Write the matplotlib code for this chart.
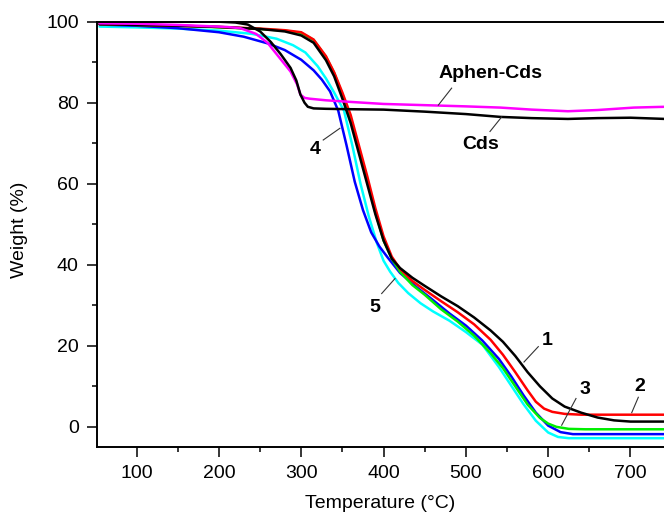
import numpy as np
import matplotlib
matplotlib.use("Agg")
import matplotlib.pyplot as plt
from matplotlib.ticker import MultipleLocator

plt.rcParams['font.family'] = ['Liberation Sans', 'DejaVu Sans']

# sample 1 (black)
temp1 = [55, 100, 150, 200, 250, 280, 300, 315, 330, 340, 350, 360, 370, 380, 390, 400, 410, 420, 435, 450,
         470, 490, 510, 530, 545, 560, 575, 590, 605, 620, 640, 660, 680, 700, 742]
weight1 = [99.4, 99.2, 99.0, 98.7, 98.2, 97.6, 96.6, 94.8, 90.5, 86.5, 81, 75, 67.5, 60, 52.5, 46, 41.5, 39.2, 36.8, 34.8,
           32.2, 29.8, 27, 23.8, 21, 17.5, 13.5, 10, 7, 5, 3.5, 2.3, 1.6, 1.3, 1.3]
# sample 2 (red)
temp2 = [55, 100, 150, 200, 250, 280, 300, 315, 330, 340, 350, 360, 370, 380, 390, 400, 410, 420, 435, 450,
         470, 490, 510, 530, 545, 560, 575, 585, 595, 605, 620, 640, 742]
weight2 = [99.4, 99.2, 99.0, 98.7, 98.3, 97.9, 97.4, 95.6, 91.5, 87.5, 82.5, 77, 69.5, 62, 54, 47, 42, 39, 36, 33.8,
           31, 28.3, 25.3, 21.5, 17.8, 13.5, 9, 6.2, 4.5, 3.7, 3.2, 3.0, 3.0]
# sample 3 (green)
temp3 = [55, 100, 150, 200, 250, 280, 300, 315, 330, 340, 350, 360, 370, 380, 390, 400, 410, 420, 435, 450,
         470, 490, 510, 530, 545, 560, 575, 590, 600, 610, 625, 645, 742]
weight3 = [99.4, 99.2, 99.0, 98.6, 98.2, 97.8, 97.2, 95.5, 91.3, 87.3, 82, 76, 68.5, 61, 53, 46, 41.5, 38.3, 35, 32.6,
           29, 26, 22.5, 18.2, 14.5, 10, 5.5, 2.2, 0.8, 0, -0.5, -0.6, -0.6]
# sample 4 (blue)
temp4 = [55, 100, 150, 200, 230, 260, 280, 300, 315, 325, 335, 345, 355, 365, 375, 385, 395, 405, 420, 440,
         460, 480, 500, 520, 540, 555, 570, 585, 600, 615, 630, 742]
weight4 = [99.3, 99.0, 98.4, 97.4, 96.3, 94.6, 93, 90.6, 88, 85.7, 82.8, 78, 69.5, 60.5, 53.5, 48, 44.5, 41.8, 38, 34.5,
           31.3, 28, 25, 21.3, 16.8, 12.5, 7.8, 3.5, 0.3, -1.3, -1.8, -1.8]
# sample 5 (cyan)
temp5 = [55, 100, 150, 200, 240, 270, 290, 305, 320, 330, 340, 352, 362, 372, 382, 392, 400, 408, 418, 430,
         445, 460, 480, 500, 520, 540, 555, 570, 585, 600, 612, 625, 742]
weight5 = [98.8, 98.6, 98.3, 97.8, 97.0, 95.8, 94.2, 92.4, 89, 86, 82.5, 78, 69.5, 60, 52, 45.3, 41, 38.3, 35.5, 33,
           30.5, 28.5, 26.2, 23.4, 20.3, 14.8, 10.2, 5.6, 1.5, -1.4, -2.5, -2.8, -2.8]
# Aphen-Cds (magenta)
tempAphen = [55, 100, 150, 186, 210, 226, 245, 259, 272, 287, 295, 299, 304, 310, 330, 360, 400, 450, 500, 542,
             580, 624, 660, 704, 742]
weightAphen = [99.6, 99.5, 99.2, 98.9, 98.7, 98.4, 97, 94.8, 91.5, 87.7, 84.5, 82, 81.2, 81, 80.6, 80.2, 79.7, 79.4,
               79.1, 78.8, 78.3, 77.9, 78.2, 78.8, 79]
# Cds (black)
tempCds = [55, 100, 150, 200, 220, 235, 250, 263, 275, 287, 294, 299, 304, 308, 315, 330, 360, 400, 450, 500,
           542, 580, 624, 660, 700, 742]
weightCds = [100, 100, 100, 100, 99.8, 99.3, 97.6, 95, 92, 88.6, 85.5, 82, 80, 79, 78.6, 78.5, 78.4, 78.3, 77.8,
             77.2, 76.5, 76.2, 76, 76.2, 76.3, 76]

series = [
    (temp5, weight5, '#00ffff'),
    (temp4, weight4, '#0000ff'),
    (temp3, weight3, '#00ee00'),
    (temp2, weight2, '#ff0000'),
    (temp1, weight1, '#000000'),
    (tempAphen, weightAphen, '#ff00ff'),
    (tempCds, weightCds, '#000000'),
]

# label text, text position, leader start, leader end
labels = [
    ("Aphen-Cds", (530.5, 87.3), (482.7, 83.6), (466.5, 79.4)),
    ("Cds", (518.4, 69.6), (543.5, 76.5), (529.3, 72.9)),
    ("4", (316.6, 68.5), (326.7, 70.8), (347.0, 73.7)),
    ("5", (389.6, 29.5), (397.7, 32.9), (413.9, 36.6)),
    ("1", (598.2, 21.4), (588.0, 19.8), (570.6, 16.0)),
    ("3", (644.7, 9.2), (633.8, 7.0), (616.4, 0.4)),
    ("2", (711.5, 9.9), (709.5, 7.3), (701.5, 3.5)),
]

fig = plt.figure(figsize=(6.64, 5.15), dpi=100)
ax = fig.add_axes([96.7 / 664, 1 - 446.7 / 515, 1 - 96.7 / 664, (446.7 - 21.7) / 515])

for t, w, c in series:
    ax.plot(t, w, color=c, lw=1.8, solid_capstyle='round')

for txt, pos, p0, p1 in labels:
    ax.text(pos[0], pos[1], txt, fontsize=14, fontweight='bold', ha='center', va='center')
    ax.plot([p0[0], p1[0]], [p0[1], p1[1]], color='#333333', lw=0.8)

ax.set_xlim(51.5, 740.7)
ax.set_ylim(-4.9, 100)
ax.xaxis.set_major_locator(MultipleLocator(100))
ax.xaxis.set_minor_locator(MultipleLocator(50))
ax.yaxis.set_major_locator(MultipleLocator(20))
ax.yaxis.set_minor_locator(MultipleLocator(10))
ax.tick_params(which='major', direction='out', length=7, width=1.1, labelsize=14, pad=6)
ax.tick_params(which='minor', direction='out', length=3.6, width=1.1)
ax.tick_params(top=False, right=False)
ax.spines['right'].set_visible(False)
for s in ['left', 'bottom', 'top']:
    ax.spines[s].set_linewidth(1.4)

fig.text(20 / 664, 1 - 230 / 515, "Weight (%)", rotation=90, ha='center', va='center', fontsize=14)
fig.text(380 / 664, 1 - 503 / 515, "Temperature (°C)", ha='center', va='center', fontsize=14)

fig.savefig("out.png", dpi=100)
